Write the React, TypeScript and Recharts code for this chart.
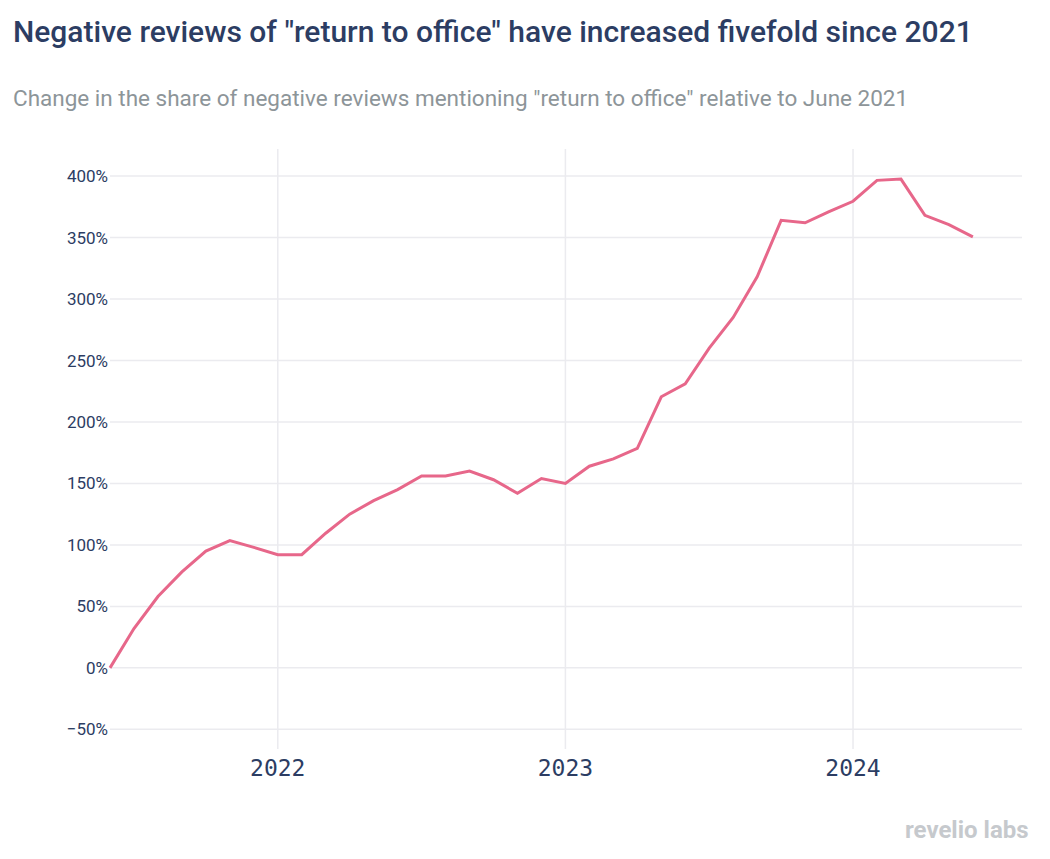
import { CartesianGrid, Line, LineChart, XAxis, YAxis } from "recharts"

// monthly observations, June 2021 = 0%
const months = [
  "2021-06", "2021-07", "2021-08", "2021-09", "2021-10", "2021-11", "2021-12",
  "2022-01", "2022-02", "2022-03", "2022-04", "2022-05", "2022-06", "2022-07",
  "2022-08", "2022-09", "2022-10", "2022-11", "2022-12", "2023-01", "2023-02",
  "2023-03", "2023-04", "2023-05", "2023-06", "2023-07", "2023-08", "2023-09",
  "2023-10", "2023-11", "2023-12", "2024-01", "2024-02", "2024-03", "2024-04",
  "2024-05", "2024-06",
]

const changePct = [
  0, 32, 58, 78, 95, 103.5, 98, 92, 92, 109.5, 125, 136, 145, 156, 156, 160,
  153, 142, 154, 150, 164, 170, 178.5, 220.5, 231, 260, 285, 318, 364, 362,
  371, 379.5, 396.5, 397.5, 368, 360.5, 350.5,
]

const yearLabels = ["2022", "2023", "2024"]
const yTicks = [-50, 0, 50, 100, 150, 200, 250, 300, 350, 400]

const data = months.map((m, i) => ({ month: m, idx: i, value: changePct[i] }))
const xTicks = yearLabels.map((y) => months.indexOf(`${y}-01`))

const navy = "#2c3d63"

export default function App() {
  return (
    <div
      style={{
        position: "absolute",
        left: 0,
        top: 0,
        width: 1050,
        height: 859,
        background: "#fff",
        fontFamily: "Roboto, sans-serif",
      }}
    >
      <div
        style={{
          position: "absolute",
          left: 13,
          top: 14,
          fontSize: 30,
          fontWeight: 500,
          color: navy,
          whiteSpace: "nowrap",
        }}
      >
        Negative reviews of "return to office" have increased fivefold since 2021
      </div>
      <div
        style={{
          position: "absolute",
          left: 13,
          top: 85,
          fontSize: 22.5,
          color: "#8d9599",
          whiteSpace: "nowrap",
        }}
      >
        Change in the share of negative reviews mentioning "return to office" relative to June 2021
      </div>

      <div style={{ position: "absolute", left: 0, top: 0 }}>
        <LineChart
          width={1050}
          height={859}
          data={data}
          margin={{ top: 149, right: 28, bottom: 0, left: 0 }}
        >
          <CartesianGrid stroke="#ebebef" strokeWidth={1.5} syncWithTicks />
          <XAxis
            dataKey="idx"
            type="number"
            domain={[0, 38.05]}
            ticks={xTicks}
            tickFormatter={(v) => months[v].slice(0, 4)}
            axisLine={false}
            tickLine={false}
            tickSize={0}
            tickMargin={11}
            height={110}
            tick={{ fill: navy, fontSize: 23, fontFamily: "DejaVu Sans Mono, monospace" }}
          />
          <YAxis
            type="number"
            domain={[-66, 422]}
            ticks={yTicks}
            tickFormatter={(v) => `${v < 0 ? "\u2212" + Math.abs(v) : v}%`}
            axisLine={false}
            tickLine={false}
            tickSize={0}
            tickMargin={2}
            width={110}
            tick={{ fill: navy, fontSize: 17, fontFamily: "Roboto, sans-serif" }}
          />
          <Line
            type="linear"
            dataKey="value"
            stroke="#e7678a"
            strokeWidth={3}
            dot={false}
            isAnimationActive={false}
          />
        </LineChart>
      </div>

      <div
        style={{
          position: "absolute",
          left: 905,
          top: 816,
          fontSize: 24,
          fontWeight: 700,
          color: "#c6c9cd",
          whiteSpace: "nowrap",
        }}
      >
        revelio labs
      </div>
    </div>
  )
}
